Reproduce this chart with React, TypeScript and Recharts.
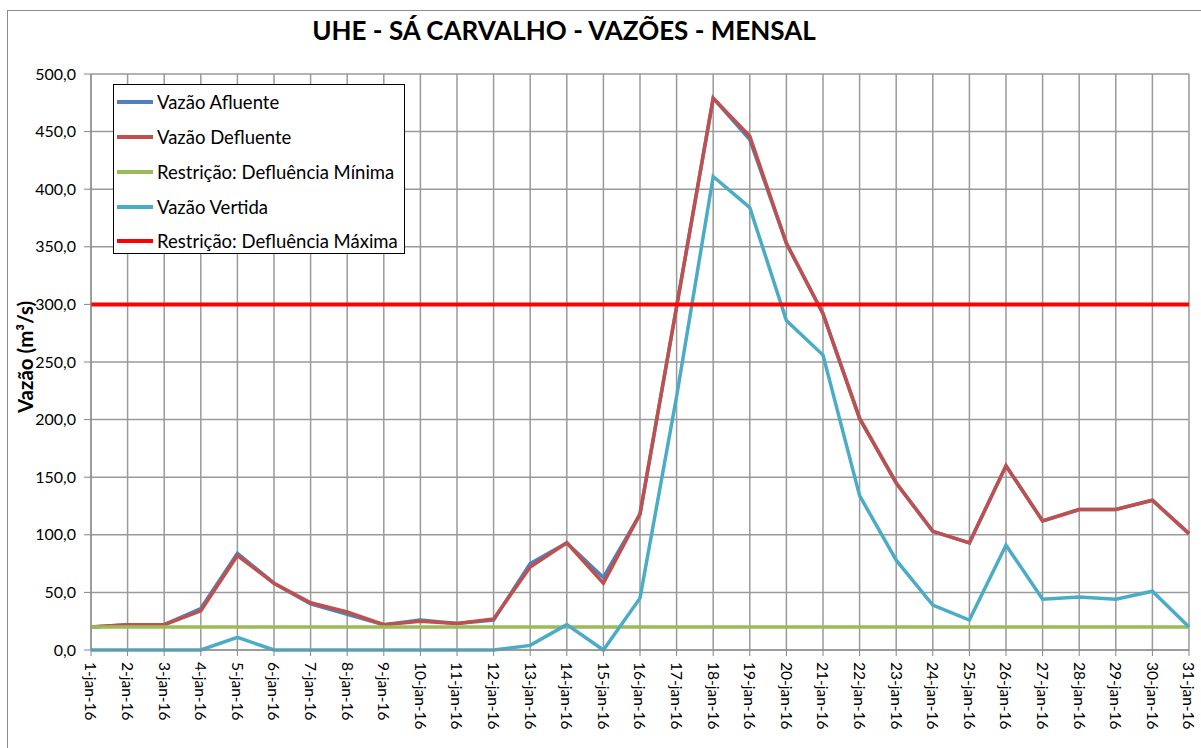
import { LineChart, Line, XAxis, YAxis, CartesianGrid, Legend } from "recharts";

const days = [
  "1-jan-16", "2-jan-16", "3-jan-16", "4-jan-16", "5-jan-16", "6-jan-16", "7-jan-16", "8-jan-16",
  "9-jan-16", "10-jan-16", "11-jan-16", "12-jan-16", "13-jan-16", "14-jan-16", "15-jan-16", "16-jan-16",
  "17-jan-16", "18-jan-16", "19-jan-16", "20-jan-16", "21-jan-16", "22-jan-16", "23-jan-16", "24-jan-16",
  "25-jan-16", "26-jan-16", "27-jan-16", "28-jan-16", "29-jan-16", "30-jan-16", "31-jan-16",
];

const vazaoAfluente = [20, 22, 22, 36, 84, 58, 40, 31, 22, 26, 23, 26, 75, 93, 63, 118, 298, 479, 443, 353, 292, 201, 145, 103, 93, 160, 112, 122, 122, 130, 101];
const vazaoDefluente = [20, 22, 22, 34, 82, 58, 41, 33, 22, 25, 23, 27, 72, 93, 58, 118, 298, 479, 446, 353, 292, 201, 145, 103, 93, 160, 112, 122, 122, 130, 101];
const defluenciaMinima = [20, 20, 20, 20, 20, 20, 20, 20, 20, 20, 20, 20, 20, 20, 20, 20, 20, 20, 20, 20, 20, 20, 20, 20, 20, 20, 20, 20, 20, 20, 20];
const vazaoVertida = [0, 0, 0, 0, 11, 0, 0, 0, 0, 0, 0, 0, 4, 22, 0, 45, 220, 411, 384, 286, 256, 134, 78, 39, 26, 91, 44, 46, 44, 51, 20];
const defluenciaMaxima = [300, 300, 300, 300, 300, 300, 300, 300, 300, 300, 300, 300, 300, 300, 300, 300, 300, 300, 300, 300, 300, 300, 300, 300, 300, 300, 300, 300, 300, 300, 300];

const yTicks = [0, 50, 100, 150, 200, 250, 300, 350, 400, 450, 500];

const series = [
  { key: "afluente", name: "Vazão Afluente", color: "#4F81BD", width: 3.5 },
  { key: "defluente", name: "Vazão Defluente", color: "#C0504D", width: 3.5 },
  { key: "minima", name: "Restrição: Defluência Mínima", color: "#9BBB59", width: 3.5 },
  { key: "vertida", name: "Vazão Vertida", color: "#4BACC6", width: 3.5 },
  { key: "maxima", name: "Restrição: Defluência Máxima", color: "#FF0000", width: 4 },
];

const data = days.map((day, i) => ({
  day,
  afluente: vazaoAfluente[i],
  defluente: vazaoDefluente[i],
  minima: defluenciaMinima[i],
  vertida: vazaoVertida[i],
  maxima: defluenciaMaxima[i],
}));

const FONT = "Lato, 'Liberation Sans', sans-serif";

function DayTick({ x, y, payload }: any) {
  return (
    <text
      x={x}
      y={y}
      transform={`rotate(90, ${x}, ${y})`}
      dy="0.36em"
      textAnchor="start"
      fontSize={15.5}
      fontFamily={FONT}
      fill="#000"
    >
      {payload.value}
    </text>
  );
}

function YLabel({ viewBox }: any) {
  const cy = viewBox.y + viewBox.height / 2 - 5;
  return (
    <text
      x={25}
      y={cy}
      transform={`rotate(-90, 25, ${cy})`}
      textAnchor="middle"
      dominantBaseline="central"
      fontSize={20.5}
      fontWeight="bold"
      fontFamily={FONT}
      fill="#000"
    >
      Vazão (m³/s)
    </text>
  );
}

function LegendBox() {
  return (
    <div
      style={{
        width: 292,
        height: 170,
        boxSizing: "border-box",
        border: "1px solid #000",
        background: "#fff",
        paddingTop: 0,
        fontFamily: FONT,
        fontSize: 18.5,
        color: "#000",
        whiteSpace: "nowrap",
      }}
    >
      {series.map((s) => (
        <div key={s.key} style={{ display: "flex", alignItems: "center", height: 34.75 }}>
          <div style={{ width: 36, height: 4, marginLeft: 3, marginRight: 4, background: s.color }} />
          <span>{s.name}</span>
        </div>
      ))}
    </div>
  );
}

export default function App() {
  return (
    <div style={{ position: "absolute", left: 0, top: 0, width: 1201, height: 748, overflow: "hidden", background: "#fff" }}>
      <div
        style={{
          position: "absolute",
          left: 7,
          top: 10,
          width: 1300,
          height: 900,
          border: "1px solid #8c8c8c",
        }}
      />
      <div
        style={{
          position: "absolute",
          left: 0,
          width: 1128,
          top: 14,
          textAlign: "center",
          fontFamily: FONT,
          fontWeight: "bold",
          fontSize: 26,
          color: "#000",
        }}
      >
        UHE - SÁ CARVALHO - VAZÕES - MENSAL
      </div>
      <div style={{ position: "absolute", left: 0, top: 0 }}>
        <LineChart width={1201} height={748} data={data} margin={{ top: 74, right: 12, bottom: 0, left: 0 }}>
          <CartesianGrid stroke="#9a9a9a" strokeWidth={1.5} />
          <XAxis
            dataKey="day"
            interval={0}
            height={98}
            tickSize={6}
            tickMargin={6}
            tick={<DayTick />}
            axisLine={{ stroke: "#868686" }}
            tickLine={{ stroke: "#868686" }}
          />
          <YAxis
            domain={[0, 500]}
            ticks={yTicks}
            width={91}
            tickSize={7}
            tickMargin={8}
            tickFormatter={(v: number) => v.toFixed(1).replace(".", ",")}
            tick={{ fill: "#000", fontSize: 16, fontFamily: FONT }}
            axisLine={{ stroke: "#868686" }}
            tickLine={{ stroke: "#868686" }}
            label={<YLabel />}
          />
          <Legend
            layout="vertical"
            align="center"
            verticalAlign="middle"
            wrapperStyle={{ left: 113, top: 84, width: 292, height: 170 }}
            content={() => <LegendBox />}
          />
          {series.map((s) => (
            <Line
              key={s.key}
              type="linear"
              dataKey={s.key}
              name={s.name}
              stroke={s.color}
              strokeWidth={s.width}
              dot={false}
              activeDot={false}
              isAnimationActive={false}
            />
          ))}
        </LineChart>
      </div>
    </div>
  );
}
